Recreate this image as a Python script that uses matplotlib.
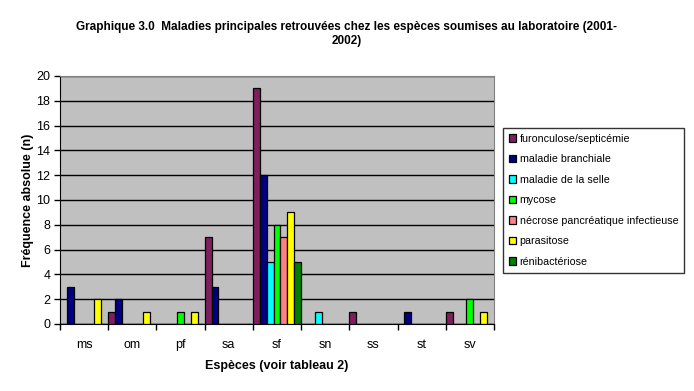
import numpy as np
import matplotlib
matplotlib.use('Agg')
import matplotlib.pyplot as plt

plt.rcParams['font.family'] = ['Liberation Sans', 'DejaVu Sans']

# data
especes = ['ms', 'om', 'pf', 'sa', 'sf', 'sn', 'ss', 'st', 'sv']
maladies = ['furonculose/septicémie', 'maladie branchiale', 'maladie de la selle',
            'mycose', 'nécrose pancréatique infectieuse', 'parasitose', 'rénibactériose']
furonculose = [0, 1, 0, 7, 19, 0, 1, 0, 1]
branchiale = [3, 2, 0, 3, 12, 0, 0, 1, 0]
selle = [0, 0, 0, 0, 5, 1, 0, 0, 0]
mycose = [0, 0, 1, 0, 8, 0, 0, 0, 2]
necrose = [0, 0, 0, 0, 7, 0, 0, 0, 0]
parasitose = [2, 1, 1, 0, 9, 0, 0, 0, 1]
renibacteriose = [0, 0, 0, 0, 5, 0, 0, 0, 0]
couleurs = ['#7f1f5f', '#000080', '#00ffff', '#00ff00', '#ff8080', '#ffff00', '#008000']

series = [furonculose, branchiale, selle, mycose, necrose, parasitose, renibacteriose]

fig = plt.figure(figsize=(6.94, 3.91), dpi=100)
ax = fig.add_axes([60/694, 67/391, 434/694, 248/391])
ax.set_facecolor('#c0c0c0')

n = len(series)
w = 1.0 / n
x = np.arange(len(especes))
for i, (vals, c, lab) in enumerate(zip(series, couleurs, maladies)):
    pos = x + i * w + w / 2
    ax.bar(pos, vals, width=w, color=c, edgecolor='black', linewidth=0.9,
           label=lab, zorder=3)

ax.set_xlim(0, len(especes))
ax.set_ylim(0, 20)
ax.set_yticks(range(0, 21, 2))
ax.yaxis.grid(True, color='black', linewidth=1, zorder=1)
ax.set_axisbelow(True)
ax.set_xticks(np.arange(len(especes) + 1))
ax.set_xticklabels([])
ax.set_xticks(x + 0.5, minor=True)
ax.set_xticklabels(especes, minor=True)
ax.tick_params(axis='x', which='minor', length=0, pad=11, labelsize=9)
ax.tick_params(axis='x', which='major', length=4, width=1, direction='out')
ax.tick_params(axis='y', length=4, width=1, direction='out', labelsize=9, pad=3)

for side in ['top', 'right']:
    ax.spines[side].set_color('#808080')
for side in ['left', 'bottom']:
    ax.spines[side].set_color('black')

ax.set_xlabel('Espèces (voir tableau 2)', fontsize=9, fontweight='bold', labelpad=6)
ax.set_ylabel('Fréquence absolue (n)', fontsize=9, fontweight='bold', labelpad=2)

fig.text(0.5, 0.913, 'Graphique 3.0  Maladies principales retrouvées chez les espèces soumises au laboratoire (2001-\n2002)',
         ha='center', va='center', fontsize=8.5, fontweight='bold', linespacing=1.2)

leg = ax.legend(loc='upper left', bbox_to_anchor=(503/694, (391-128)/391),
                bbox_transform=fig.transFigure, fontsize=7.7, frameon=True,
                fancybox=False, edgecolor='black', handlelength=0.7, handleheight=0.7,
                handletextpad=0.3, labelspacing=0.98, borderpad=0.55, borderaxespad=0)
leg.get_frame().set_linewidth(1)

fig.savefig('out.png', dpi=100)
